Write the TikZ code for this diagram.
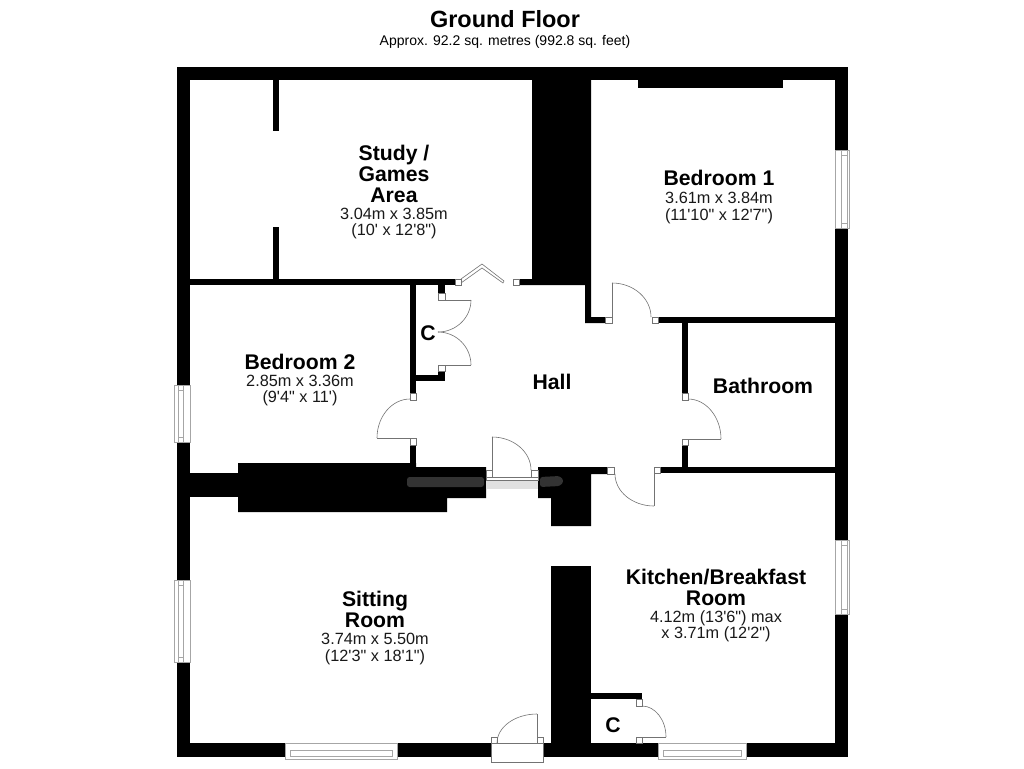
\documentclass[tikz,border=0pt]{standalone}
\usepackage{fontspec}
\setmainfont{Liberation Sans}
\newfontfamily\dimfont{Liberation Sans}
\newcommand{\wallbox}[4]{\fill[wallfill] (#1,#2) rectangle (#3,#4);}
\newcommand{\postbox}[4]{\draw[doorline,fill=white] (#1,#2) rectangle (#3,#4);}
% arc leaves (x0,y0) horizontally and arrives at (x1,y1) vertically
\newcommand{\swingHV}[4]{\draw[doorline] (#1,#2) .. controls ({#1+0.55*(#3-#1)},#2) and (#3,{#4-0.55*(#4-#2)}) .. (#3,#4);}
% vertical window: outer x1,x2; inner xa,xb; y1,y2
\newcommand{\winV}[6]{\draw[winline,fill=white] (#1,#5) rectangle (#2,#6);
  \draw[winline] (#3,{#5+5}) rectangle (#4,{#6-5}); \draw[winline] (#3,#5) -- (#3,#6) (#4,#5) -- (#4,#6);}
\newcommand{\winH}[6]{\draw[winline,fill=white] (#5,#1) rectangle (#6,#2);
  \draw[winline] ({#5+5},#3) rectangle ({#6-5},#4);}
\tikzset{
  wallfill/.style={fill=black},
  doorline/.style={draw=black!55,line width=0.45pt},
  winline/.style={draw=black!35,line width=0.5pt},
  rname/.style={font=\fontsize{15.9}{18}\selectfont\bfseries,align=center,inner sep=0pt,text=black,text height=0.72em,text depth=0pt,yshift=-2.6pt},
  rdim/.style={font=\fontsize{12.2}{14}\dimfont\selectfont,align=center,inner sep=0pt,text=black!90,text height=0.72em,text depth=0pt,yshift=-1.5pt},
}
\begin{document}
\begin{tikzpicture}[x=0.75pt,y=-0.75pt]
\useasboundingbox (0,0) rectangle (1024,768);
\fill[white] (0,0) rectangle (1024,768);
% outer walls
\wallbox{177}{67}{848}{80}
\wallbox{177}{67}{190}{757}
\wallbox{835}{67}{848}{757}
\wallbox{177}{743}{491}{757}
\wallbox{543}{743}{848}{757}
% study stubs
\wallbox{273}{80}{279}{131}
\wallbox{273}{227}{279}{279}
% upper chimney
\fill[wallfill] (532,80) -- (591,80) -- (591,317) -- (605,317) -- (605,323) -- (585,323) -- (585,285) -- (519,285) -- (519,279) -- (532,279) -- cycle;
% bedroom 1 breast
\wallbox{638}{79}{783}{88}
% bedroom1 / bathroom wall
\wallbox{658}{317}{835}{323}
\wallbox{682}{323}{688}{393}
\wallbox{682}{445}{688}{467}
\wallbox{660}{467}{835}{473}
% study / bedroom 2 wall
\wallbox{190}{279}{455}{285}
% cupboard walls
\wallbox{410}{285}{416}{393}
\wallbox{438}{285}{445}{293}
\wallbox{410}{375}{445}{381}
\wallbox{438}{371}{445}{375}
\wallbox{410}{445}{416}{464}
% central masses
\fill[wallfill] (238,463) -- (416,463) -- (416,467) -- (486,467) -- (486,498) -- (447,498) -- (447,512) -- (238,512) -- cycle;
\wallbox{190}{473}{238}{497}
\fill[wallfill] (538,467) -- (607,467) -- (607,474) -- (591,474) -- (591,526) -- (551,526) -- (551,498) -- (538,498) -- cycle;
% lower chimney
\wallbox{551}{566}{591}{743}
\wallbox{591}{693}{642}{699}
% smears by the entry door
\fill[black!12] (486,480) rectangle (538,489);
\fill[black!80,rounded corners=2pt] (407,477) rectangle (484,487);
\fill[black!80,rounded corners=2pt] (540,477) -- (560,476) -- (564,481) -- (560,486) -- (540,487) -- cycle;
% windows
\winV{174}{190}{178}{183}{385}{442}
\winV{174}{190}{178}{183}{580}{662}
\winV{835}{849}{841}{847}{150}{228}
\winV{835}{849}{841}{847}{540}{614}
\winH{743}{759}{750}{756}{285}{397}
\winH{743}{759}{750}{756}{658}{746}
% bifold door
\postbox{455}{279}{461}{285}
\postbox{513}{279}{519}{285}
\draw[doorline] (461,279) -- (482,264) -- (504,281) -- (503,283) -- (482,268) -- (461,283);
% cupboard doors (hall)
\postbox{438}{293}{445}{300}
\postbox{438}{365}{445}{371}
\draw[doorline] (445,300) -- (471,300);
\draw[doorline] (445,365) -- (471,365);
\swingHV{438}{332}{471}{300}
\swingHV{438}{332}{471}{365}
% bedroom 1 door
\postbox{605}{317}{612}{323}
\postbox{652}{317}{658}{323}
\draw[doorline] (612,317) -- (612,283);
\swingHV{612}{283}{651}{317}
% bedroom 2 door
\postbox{410}{393}{416}{400}
\postbox{410}{438}{416}{445}
\draw[doorline] (410,438) -- (377,438);
\swingHV{410}{399}{377}{438}
% bathroom door
\postbox{682}{393}{688}{400}
\postbox{682}{439}{688}{445}
\draw[doorline] (688,439) -- (721,439);
\swingHV{688}{399}{721}{439}
% kitchen door
\postbox{607}{467}{614}{474}
\postbox{654}{467}{660}{473}
\draw[doorline] (654,473) -- (654,506);
\swingHV{654}{506}{615}{474}
% entry door
\postbox{486}{470}{492}{477}
\postbox{531}{470}{538}{477}
\draw[doorline,fill=white] (486,477) rectangle (538,480);
\draw[doorline] (492,470) -- (492,437);
\swingHV{492}{437}{531}{470}
% kitchen cupboard door
\postbox{636}{699}{642}{706}
\postbox{636}{737}{642}{743}
\draw[doorline] (642,737) -- (666,737);
\swingHV{642}{706}{666}{737}
% front door
\draw[doorline,fill=white] (491,743) rectangle (543,762);
\postbox{491}{737}{497}{743}
\postbox{537}{737}{543}{743}
\draw[doorline] (537,743) -- (537,714);
\swingHV{537}{714}{497}{743}
% texts
\node[font=\fontsize{17.6}{20}\selectfont\bfseries,inner sep=0pt] (title) at (505,19) {Ground Floor};
\node[font=\fontsize{10.5}{12}\selectfont,inner sep=0pt] (subtitle) at (505,42) {Approx. 92.2 sq. metres (992.8 sq. feet)};
\node[rname] (studyA) at (394,152) {Study /};
\node[rname] (studyB) at (394,173) {Games};
\node[rname] (studyC) at (394,194) {Area};
\node[rdim] (studyD) at (394,213) {3.04m x 3.85m};
\node[rdim] (studyE) at (394,229) {(10' x 12'8")};
\node[rname] (bedA) at (719,177) {Bedroom 1};
\node[rdim] (bedB) at (719,197) {3.61m x 3.84m};
\node[rdim] (bedC) at (719,214) {(11'10" x 12'7")};
\node[rname] (bedtwoA) at (300,361) {Bedroom 2};
\node[rdim] (bedtwoB) at (300,380) {2.85m x 3.36m};
\node[rdim] (bedtwoC) at (300,396) {(9'4" x 11')};
\node[rname] (cupA) at (428,332) {C};
\node[rname] (hall) at (552,381) {Hall};
\node[rname] (bath) at (763,385) {Bathroom};
\node[rname] (sitA) at (375,598) {Sitting};
\node[rname] (sitB) at (375,619) {Room};
\node[rdim] (sitC) at (375,638) {3.74m x 5.50m};
\node[rdim] (sitD) at (375,655) {(12'3" x 18'1")};
\node[rname] (kitA) at (716,576) {Kitchen/Breakfast};
\node[rname] (kitB) at (716,597) {Room};
\node[rdim] (kitC) at (716,616) {4.12m (13'6") max};
\node[rdim] (kitD) at (716,632) {x 3.71m (12'2")};
\node[rname] (cupB) at (613,724) {C};
\end{tikzpicture}
\end{document}
